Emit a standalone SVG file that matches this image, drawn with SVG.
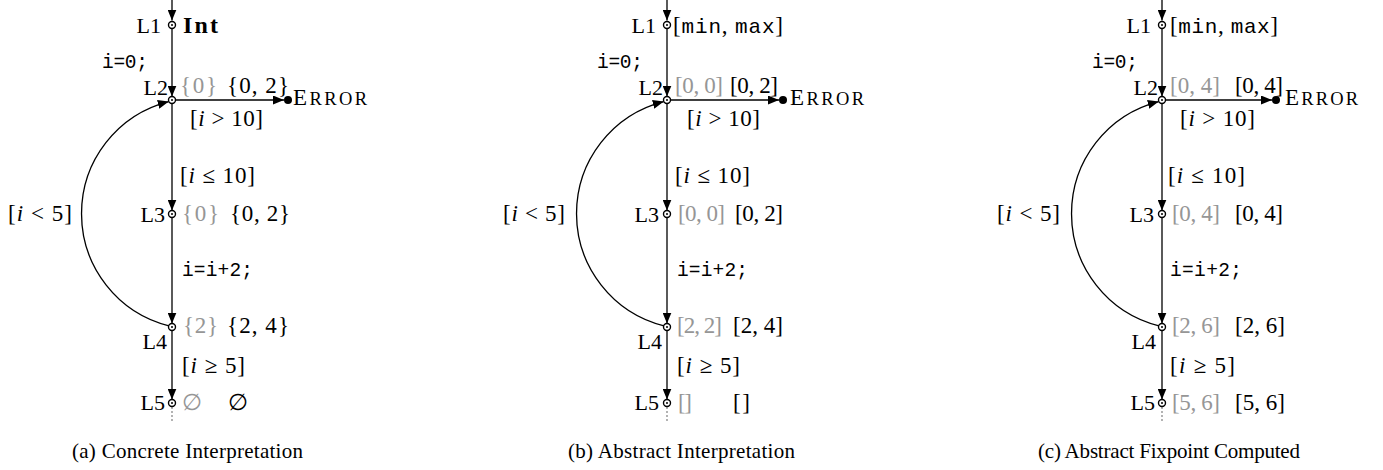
<svg xmlns="http://www.w3.org/2000/svg" width="1383" height="470" viewBox="0 0 1383 470">
<defs>
<style>
.t{font-family:"Liberation Serif","DejaVu Serif",serif;font-size:23px;fill:#000}
.l{font-size:22px}
.g{fill:#969696}
.tt{font-family:"Liberation Mono","DejaVu Sans Mono",monospace;font-size:19.5px}
.mt{font-family:"Liberation Mono","DejaVu Sans Mono",monospace;font-size:21px}
.it{font-style:italic}
.b{font-weight:bold;font-size:24px}
.sc{font-size:18.5px}
.er{font-size:23px}
.cap{font-size:21px}
.e{stroke:#000;stroke-width:1.3;fill:none}
.dots{stroke:#000;stroke-width:1.2;stroke-dasharray:1 3;fill:none}
.nc{fill:#fff;stroke:#000;stroke-width:1.4}
.nd{fill:#000}
.end{text-anchor:end}
</style>
<marker id="arr" viewBox="0 0 11 9" markerUnits="userSpaceOnUse" markerWidth="11" markerHeight="9" refX="11" refY="4.5" orient="auto">
<path d="M0,0 L11,4.5 L0,9 Z" fill="#000"/>
</marker>
</defs>
<rect width="1383" height="470" fill="#fff"/>

<!-- ========== connectors ========== -->
<g id="connectors">
<!-- panel a -->
<path class="e" d="M172,0 V20.5" marker-end="url(#arr)"/>
<path class="e" d="M172,28.5 V96.5" marker-end="url(#arr)"/>
<path class="e" d="M172,100 H284" marker-end="url(#arr)"/>
<path class="e" d="M172,103.5 V210.5" marker-end="url(#arr)"/>
<path class="e" d="M172,217.5 V323.5" marker-end="url(#arr)"/>
<path class="e" d="M172,330.5 V399.5" marker-end="url(#arr)"/>
<path class="e" d="M169,325.8 A115.6,115.6 0 0 1 168.8,101.6" marker-end="url(#arr)"/>
<path class="dots" d="M172,407.5 V423"/>
<text class="t tt" x="102" y="68" textLength="46">i=0;</text>
<text class="t" x="190" y="126" textLength="73">[<tspan class="it">i</tspan> &gt; 10]</text>
<text class="t" x="180" y="183" textLength="75">[<tspan class="it">i</tspan> ≤ 10]</text>
<text class="t" x="8" y="221" textLength="64">[<tspan class="it">i</tspan> &lt; 5]</text>
<text class="t tt" x="182" y="276" textLength="71">i=i+2;</text>
<text class="t" x="182" y="373" textLength="63">[<tspan class="it">i</tspan> ≥ 5]</text>

<!-- panel b -->
<path class="e" d="M667,0 V20.5" marker-end="url(#arr)"/>
<path class="e" d="M667,28.5 V96.5" marker-end="url(#arr)"/>
<path class="e" d="M667,100 H779" marker-end="url(#arr)"/>
<path class="e" d="M667,103.5 V210.5" marker-end="url(#arr)"/>
<path class="e" d="M667,217.5 V323.5" marker-end="url(#arr)"/>
<path class="e" d="M667,330.5 V399.5" marker-end="url(#arr)"/>
<path class="e" d="M664,325.8 A115.6,115.6 0 0 1 663.8,101.6" marker-end="url(#arr)"/>
<path class="dots" d="M667,407.5 V423"/>
<text class="t tt" x="597" y="68" textLength="46">i=0;</text>
<text class="t" x="687" y="126" textLength="73">[<tspan class="it">i</tspan> &gt; 10]</text>
<text class="t" x="675" y="183" textLength="75">[<tspan class="it">i</tspan> ≤ 10]</text>
<text class="t" x="503" y="221" textLength="62">[<tspan class="it">i</tspan> &lt; 5]</text>
<text class="t tt" x="677" y="276" textLength="71">i=i+2;</text>
<text class="t" x="677" y="373" textLength="63">[<tspan class="it">i</tspan> ≥ 5]</text>

<!-- panel c -->
<path class="e" d="M1162,0 V20.5" marker-end="url(#arr)"/>
<path class="e" d="M1162,28.5 V96.5" marker-end="url(#arr)"/>
<path class="e" d="M1162,100 H1272" marker-end="url(#arr)"/>
<path class="e" d="M1162,103.5 V210.5" marker-end="url(#arr)"/>
<path class="e" d="M1162,217.5 V323.5" marker-end="url(#arr)"/>
<path class="e" d="M1162,330.5 V399.5" marker-end="url(#arr)"/>
<path class="e" d="M1159,325.8 A115.6,115.6 0 0 1 1158.8,101.6" marker-end="url(#arr)"/>
<path class="dots" d="M1162,407.5 V423"/>
<text class="t tt" x="1092" y="68" textLength="46">i=0;</text>
<text class="t" x="1180" y="126" textLength="75">[<tspan class="it">i</tspan> &gt; 10]</text>
<text class="t" x="1168" y="183" textLength="77">[<tspan class="it">i</tspan> ≤ 10]</text>
<text class="t" x="997" y="221" textLength="63">[<tspan class="it">i</tspan> &lt; 5]</text>
<text class="t tt" x="1170" y="276" textLength="72">i=i+2;</text>
<text class="t" x="1170" y="373" textLength="65">[<tspan class="it">i</tspan> ≥ 5]</text>
</g>

<!-- ========== panel a nodes ========== -->
<g id="a-L1">
<circle class="nc" cx="172" cy="25" r="3.5"/><circle class="nd" cx="172" cy="25" r="1"/>
<text class="t l end" x="161" y="33">L1</text>
<text class="t b" x="183" y="33" textLength="35">Int</text>
</g>
<g id="a-L2">
<circle class="nc" cx="172" cy="100" r="3.5"/><circle class="nd" cx="172" cy="100" r="1"/>
<text class="t l end" x="168" y="95">L2</text>
<text class="t g" x="180" y="93" textLength="37">{0}</text>
<text class="t" x="227" y="93" textLength="62">{0, 2}</text>
</g>
<g id="a-error">
<circle cx="288" cy="100" r="4" fill="#000"/>
<text class="t er" x="293" y="105" textLength="74">E<tspan class="sc">RROR</tspan></text>
</g>
<g id="a-L3">
<circle class="nc" cx="172" cy="214" r="3.5"/><circle class="nd" cx="172" cy="214" r="1"/>
<text class="t l end" x="165" y="222">L3</text>
<text class="t g" x="182" y="221" textLength="37">{0}</text>
<text class="t" x="230" y="221" textLength="60">{0, 2}</text>
</g>
<g id="a-L4">
<circle class="nc" cx="172" cy="327" r="3.5"/><circle class="nd" cx="172" cy="327" r="1"/>
<text class="t l end" x="167" y="349">L4</text>
<text class="t g" x="183" y="333" textLength="35">{2}</text>
<text class="t" x="227" y="333" textLength="62">{2, 4}</text>
</g>
<g id="a-L5">
<circle class="nc" cx="172" cy="403" r="3.5"/><circle class="nd" cx="172" cy="403" r="1"/>
<text class="t l end" x="165" y="410">L5</text>
<text class="t g" x="182" y="410">∅</text>
<text class="t" x="228" y="410">∅</text>
</g>
<text id="cap-a" class="t cap" x="72" y="458" textLength="231">(a) Concrete Interpretation</text>

<!-- ========== panel b nodes ========== -->
<g id="b-L1">
<circle class="nc" cx="667" cy="25" r="3.5"/><circle class="nd" cx="667" cy="25" r="1"/>
<text class="t l end" x="656" y="33">L1</text>
<text class="t" x="673" y="33" textLength="110">[<tspan class="mt">min</tspan>, <tspan class="mt">max</tspan>]</text>
</g>
<g id="b-L2">
<circle class="nc" cx="667" cy="100" r="3.5"/><circle class="nd" cx="667" cy="100" r="1"/>
<text class="t l end" x="663" y="95">L2</text>
<text class="t g" x="675" y="93" textLength="48">[0, 0]</text>
<text class="t" x="730" y="93" textLength="48">[0, 2]</text>
</g>
<g id="b-error">
<circle cx="783" cy="100" r="4" fill="#000"/>
<text class="t er" x="790" y="105" textLength="74">E<tspan class="sc">RROR</tspan></text>
</g>
<g id="b-L3">
<circle class="nc" cx="667" cy="214" r="3.5"/><circle class="nd" cx="667" cy="214" r="1"/>
<text class="t l end" x="659" y="222">L3</text>
<text class="t g" x="678" y="221" textLength="47">[0, 0]</text>
<text class="t" x="735" y="221" textLength="48">[0, 2]</text>
</g>
<g id="b-L4">
<circle class="nc" cx="667" cy="327" r="3.5"/><circle class="nd" cx="667" cy="327" r="1"/>
<text class="t l end" x="662" y="349">L4</text>
<text class="t g" x="677" y="333" textLength="45">[2, 2]</text>
<text class="t" x="733" y="333" textLength="50">[2, 4]</text>
</g>
<g id="b-L5">
<circle class="nc" cx="667" cy="403" r="3.5"/><circle class="nd" cx="667" cy="403" r="1"/>
<text class="t l end" x="659" y="410">L5</text>
<text class="t g" x="678" y="410" textLength="14">[ ]</text>
<text class="t" x="733" y="410" textLength="17">[ ]</text>
</g>
<text id="cap-b" class="t cap" x="568" y="458" textLength="227">(b) Abstract Interpretation</text>

<!-- ========== panel c nodes ========== -->
<g id="c-L1">
<circle class="nc" cx="1162" cy="25" r="3.5"/><circle class="nd" cx="1162" cy="25" r="1"/>
<text class="t l end" x="1151" y="33">L1</text>
<text class="t" x="1170" y="33" textLength="108">[<tspan class="mt">min</tspan>, <tspan class="mt">max</tspan>]</text>
</g>
<g id="c-L2">
<circle class="nc" cx="1162" cy="100" r="3.5"/><circle class="nd" cx="1162" cy="100" r="1"/>
<text class="t l end" x="1158" y="95">L2</text>
<text class="t g" x="1170" y="93" textLength="50">[0, 4]</text>
<text class="t" x="1235" y="93" textLength="48">[0, 4]</text>
</g>
<g id="c-error">
<circle cx="1276" cy="100" r="4" fill="#000"/>
<text class="t er" x="1285" y="105" textLength="73">E<tspan class="sc">RROR</tspan></text>
</g>
<g id="c-L3">
<circle class="nc" cx="1162" cy="214" r="3.5"/><circle class="nd" cx="1162" cy="214" r="1"/>
<text class="t l end" x="1154" y="222">L3</text>
<text class="t g" x="1172" y="221" textLength="48">[0, 4]</text>
<text class="t" x="1235" y="221" textLength="48">[0, 4]</text>
</g>
<g id="c-L4">
<circle class="nc" cx="1162" cy="327" r="3.5"/><circle class="nd" cx="1162" cy="327" r="1"/>
<text class="t l end" x="1156" y="349">L4</text>
<text class="t g" x="1172" y="333" textLength="48">[2, 6]</text>
<text class="t" x="1235" y="333" textLength="50">[2, 6]</text>
</g>
<g id="c-L5">
<circle class="nc" cx="1162" cy="403" r="3.5"/><circle class="nd" cx="1162" cy="403" r="1"/>
<text class="t l end" x="1155" y="410">L5</text>
<text class="t g" x="1172" y="410" textLength="48">[5, 6]</text>
<text class="t" x="1235" y="410" textLength="50">[5, 6]</text>
</g>
<text id="cap-c" class="t cap" x="1038" y="458" textLength="262">(c) Abstract Fixpoint Computed</text>
</svg>
